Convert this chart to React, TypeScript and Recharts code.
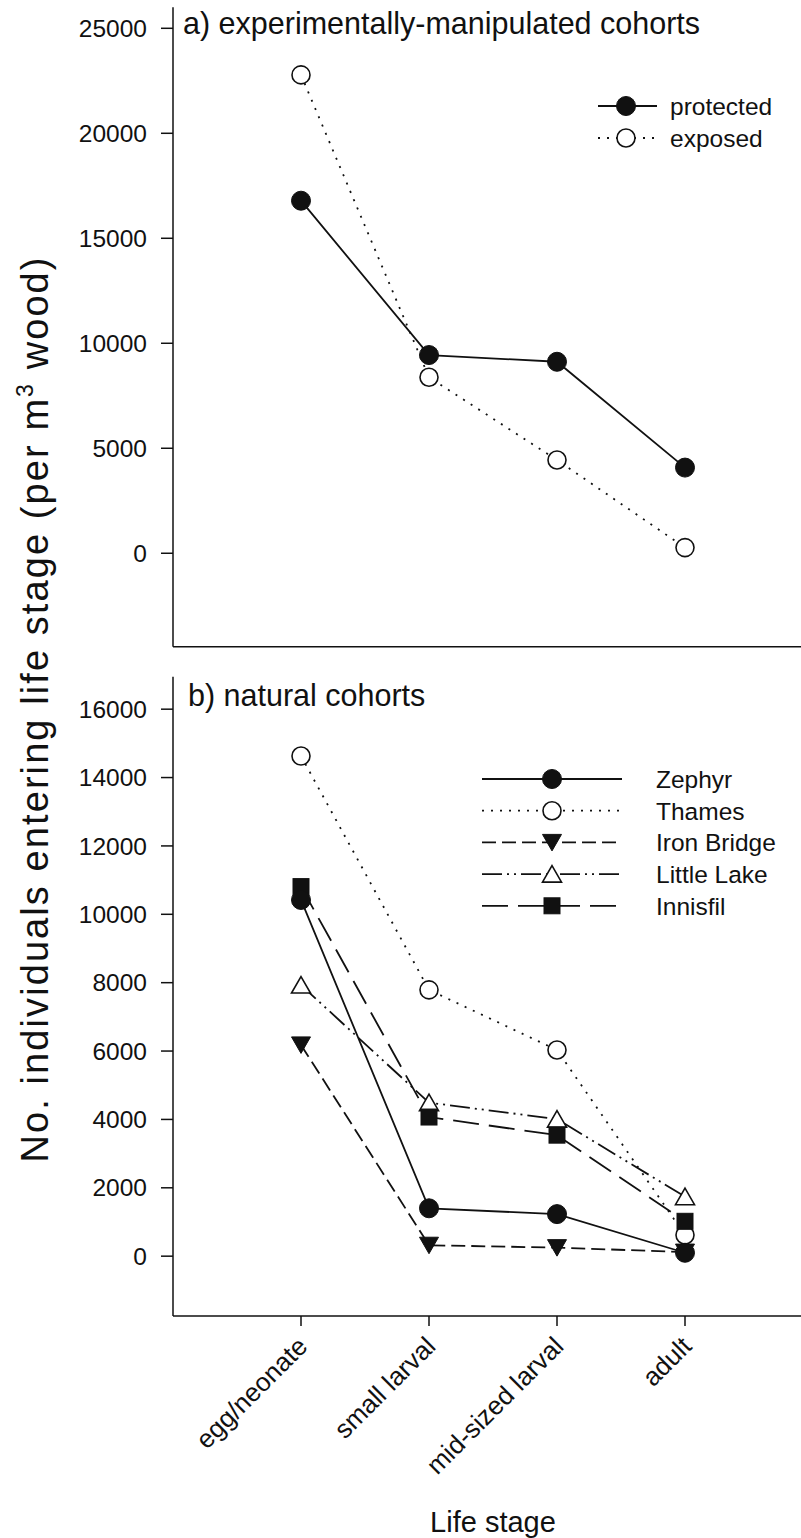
import React from 'react';
import { LineChart, Line, XAxis, YAxis, Legend } from 'recharts';

// ---------- data ----------
const stages = ['egg/neonate', 'small larval', 'mid-sized larval', 'adult'];
const stagePos = [1, 2, 3, 4];

const protectedVals = [16790, 9440, 9120, 4080];
const exposedVals = [22780, 8380, 4440, 270];

const zephyrVals = [10420, 1400, 1230, 100];
const thamesVals = [14630, 7790, 6030, 620];
const ironBridgeVals = [6180, 320, 250, 120];
const littleLakeVals = [7930, 4490, 4010, 1740];
const innisfilVals = [10810, 4070, 3540, 1020];

const topTicks = [0, 5000, 10000, 15000, 20000, 25000];
const bottomTicks = [0, 2000, 4000, 6000, 8000, 10000, 12000, 14000, 16000];

const topData = stages.map((s, i) => ({
  x: stagePos[i],
  stage: s,
  protected: protectedVals[i],
  exposed: exposedVals[i],
}));

const bottomData = stages.map((s, i) => ({
  x: stagePos[i],
  stage: s,
  Zephyr: zephyrVals[i],
  Thames: thamesVals[i],
  'Iron Bridge': ironBridgeVals[i],
  'Little Lake': littleLakeVals[i],
  Innisfil: innisfilVals[i],
}));

// ---------- styles ----------
const FONT = '"Liberation Sans", Arial, Helvetica, sans-serif';
const INK = '#111';
const SW = 1.8;

type Shape = 'circleFilled' | 'circleOpen' | 'triDownFilled' | 'triUpOpen' | 'squareFilled';

function Marker({ shape, cx, cy }: { shape: Shape; cx: number; cy: number }) {
  switch (shape) {
    case 'circleFilled':
      return <circle cx={cx} cy={cy} r={9.5} fill={INK} stroke={INK} strokeWidth={1} />;
    case 'circleOpen':
      return <circle cx={cx} cy={cy} r={9} fill="#fff" stroke={INK} strokeWidth={1.6} />;
    case 'triDownFilled':
      return (
        <polygon
          points={`${cx - 9.5},${cy - 8} ${cx + 9.5},${cy - 8} ${cx},${cy + 8.5}`}
          fill={INK}
          stroke={INK}
          strokeWidth={1}
        />
      );
    case 'triUpOpen':
      return (
        <polygon
          points={`${cx},${cy - 8.5} ${cx + 9.5},${cy + 8} ${cx - 9.5},${cy + 8}`}
          fill="#fff"
          stroke={INK}
          strokeWidth={1.6}
        />
      );
    case 'squareFilled':
      return <rect x={cx - 8} y={cy - 8} width={16} height={16} fill={INK} stroke={INK} strokeWidth={1} />;
  }
  return null;
}

const makeDot = (shape: Shape) => (props: any) => {
  const { cx, cy, index } = props;
  if (cx == null || cy == null) return <g key={`e${index}`} />;
  return (
    <g key={`d${index}`}>
      <Marker shape={shape} cx={cx} cy={cy} />
    </g>
  );
};

type Series = { key: string; shape: Shape; dash?: string };

const topSeries: Series[] = [
  { key: 'exposed', shape: 'circleOpen', dash: '2 7' },
  { key: 'protected', shape: 'circleFilled' },
];
const topLegendOrder = ['protected', 'exposed'];

const bottomSeries: Series[] = [
  { key: 'Thames', shape: 'circleOpen', dash: '2 7' },
  { key: 'Little Lake', shape: 'triUpOpen', dash: '20 5 2 5 2 5' },
  { key: 'Iron Bridge', shape: 'triDownFilled', dash: '14 6' },
  { key: 'Innisfil', shape: 'squareFilled', dash: '26 10' },
  { key: 'Zephyr', shape: 'circleFilled' },
];
const bottomLegendOrder = ['Zephyr', 'Thames', 'Iron Bridge', 'Little Lake', 'Innisfil'];

function LegendBox({
  series,
  order,
  width,
  height,
  x1,
  x2,
  mx,
  tx,
  y0,
  step,
}: {
  series: Series[];
  order: string[];
  width: number;
  height: number;
  x1: number;
  x2: number;
  mx: number;
  tx: number;
  y0: number;
  step: number;
}) {
  return (
    <svg width={width} height={height} style={{ display: 'block', overflow: 'visible' }}>
      {order.map((k, i) => {
        const s = series.find((q) => q.key === k)!;
        const y = y0 + i * step;
        return (
          <g key={k}>
            <line x1={x1} x2={x2} y1={y} y2={y} stroke={INK} strokeWidth={SW} strokeDasharray={s.dash} />
            <Marker shape={s.shape} cx={mx} cy={y} />
            <text x={tx} y={y} dy="0.36em" fontFamily={FONT} fontSize={24.5} fill={INK}>
              {k}
            </text>
          </g>
        );
      })}
    </svg>
  );
}

const RotTick = (props: any) => {
  const { x, y, payload } = props;
  const idx = stagePos.indexOf(payload.value);
  const label = idx >= 0 ? stages[idx] : '';
  const ax = x + 8;
  const ay = y + 20;
  return (
    <text
      x={ax}
      y={ay}
      transform={`rotate(-45, ${ax}, ${ay})`}
      textAnchor="end"
      fontFamily={FONT}
      fontSize={26}
      fill={INK}
    >
      {label}
    </text>
  );
};

const CHART_W = 813;
const LEFT = 173;

export default function App() {
  return (
    <div
      style={{
        position: 'absolute',
        left: 0,
        top: 0,
        width: 801,
        height: 1538,
        overflow: 'hidden',
        background: '#fff',
        fontFamily: FONT,
      }}
    >
      {/* top panel */}
      <div style={{ position: 'absolute', left: 0, top: 0 }}>
        <LineChart width={CHART_W} height={660} data={topData} margin={{ top: 7.3, right: 0, bottom: 0, left: 0 }}>
          <XAxis
            type="number"
            dataKey="x"
            domain={[0, 5]}
            ticks={stagePos}
            tick={false}
            height={13.3}
            tickSize={10}
            axisLine={{ stroke: INK, strokeWidth: 1.5 }}
            tickLine={{ stroke: INK, strokeWidth: 1.5 }}
            allowDataOverflow
          />
          <YAxis
            type="number"
            domain={[-4450, 26000]}
            ticks={topTicks}
            width={LEFT}
            tickSize={12}
            tickMargin={14}
            axisLine={{ stroke: INK, strokeWidth: 1.5 }}
            tickLine={{ stroke: INK, strokeWidth: 1.5 }}
            tick={{ fill: INK, fontSize: 24.5, fontFamily: FONT }}
            allowDataOverflow
          />
          {topSeries.map((s) => (
            <Line
              key={s.key}
              dataKey={s.key}
              stroke={INK}
              strokeWidth={SW}
              strokeDasharray={s.dash}
              dot={makeDot(s.shape)}
              activeDot={false}
              isAnimationActive={false}
              type="linear"
            />
          ))}
          <Legend
            layout="vertical"
            align="center"
            verticalAlign="middle"
            wrapperStyle={{ left: 560, top: 80, width: 240, height: 80 }}
            content={() => (
              <LegendBox
                series={topSeries}
                order={topLegendOrder}
                width={240}
                height={80}
                x1={38}
                x2={97}
                mx={66}
                tx={110}
                y0={26}
                step={32}
              />
            )}
          />
        </LineChart>
      </div>

      {/* bottom panel */}
      <div style={{ position: 'absolute', left: 0, top: 660 }}>
        <LineChart width={CHART_W} height={878} data={bottomData} margin={{ top: 16.7, right: 0, bottom: 0, left: 0 }}>
          <XAxis
            type="number"
            dataKey="x"
            domain={[0, 5]}
            ticks={stagePos}
            interval={0}
            height={222}
            tickSize={10}
            tick={<RotTick />}
            axisLine={{ stroke: INK, strokeWidth: 1.5 }}
            tickLine={{ stroke: INK, strokeWidth: 1.5 }}
            allowDataOverflow
            label={{
              value: 'Life stage',
              position: 'insideBottom',
              offset: 6,
              fill: INK,
              fontSize: 29,
              fontFamily: FONT,
            }}
          />
          <YAxis
            type="number"
            domain={[-1750, 16950]}
            ticks={bottomTicks}
            width={LEFT}
            tickSize={12}
            tickMargin={14}
            axisLine={{ stroke: INK, strokeWidth: 1.5 }}
            tickLine={{ stroke: INK, strokeWidth: 1.5 }}
            tick={{ fill: INK, fontSize: 24.5, fontFamily: FONT }}
            allowDataOverflow
          />
          {bottomSeries.map((s) => (
            <Line
              key={s.key}
              dataKey={s.key}
              stroke={INK}
              strokeWidth={SW}
              strokeDasharray={s.dash}
              dot={makeDot(s.shape)}
              activeDot={false}
              isAnimationActive={false}
              type="linear"
            />
          ))}
          <Legend
            layout="vertical"
            align="center"
            verticalAlign="middle"
            wrapperStyle={{ left: 450, top: 90, width: 350, height: 180 }}
            content={() => (
              <LegendBox
                series={bottomSeries}
                order={bottomLegendOrder}
                width={350}
                height={180}
                x1={32}
                x2={172}
                mx={102}
                tx={206}
                y0={29}
                step={31.7}
              />
            )}
          />
        </LineChart>
      </div>

      {/* overlay texts: panel titles and shared y-axis title */}
      <svg
        width={801}
        height={1538}
        style={{ position: 'absolute', left: 0, top: 0, pointerEvents: 'none' }}
      >
        <text x={183} y={33.5} fontFamily={FONT} fontSize={30.5} fill={INK}>
          a) experimentally-manipulated cohorts
        </text>
        <text x={188} y={706} fontFamily={FONT} fontSize={30.5} fill={INK}>
          b) natural cohorts
        </text>
        <text
          transform="translate(48, 710) rotate(-90)"
          textAnchor="middle"
          fontFamily={FONT}
          fontSize={38}
          fill={INK}
          textLength={905}
          lengthAdjust="spacing"
        >
          <tspan>No. individuals entering life stage (per m</tspan>
          <tspan dy={-15} fontSize={23}>3</tspan>
          <tspan dy={15}> wood)</tspan>
        </text>
      </svg>
    </div>
  );
}
